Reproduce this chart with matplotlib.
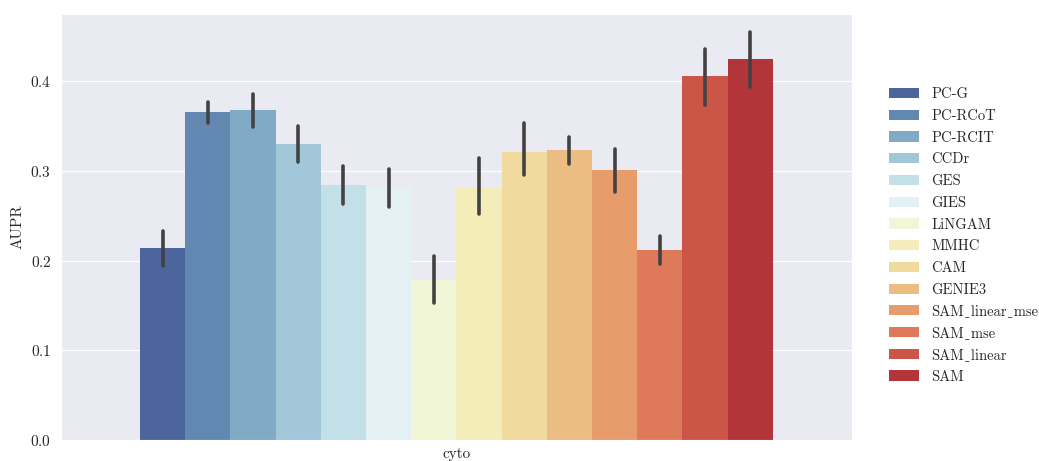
import numpy as np
import matplotlib
matplotlib.use('Agg')
import matplotlib.pyplot as plt
import seaborn as sns

# AUPR per method on the cyto dataset (mean and confidence interval)
methods = ['PC-G', 'PC-RCoT', 'PC-RCIT', 'CCDr', 'GES', 'GIES', 'LiNGAM', 'MMHC',
           'CAM', 'GENIE3', 'SAM_linear_mse', 'SAM_mse', 'SAM_linear', 'SAM']
aupr = [0.214, 0.366, 0.368, 0.330, 0.284, 0.282, 0.178, 0.281,
        0.321, 0.323, 0.301, 0.212, 0.406, 0.425]
ci_low = [0.194, 0.354, 0.349, 0.310, 0.263, 0.260, 0.153, 0.252,
          0.295, 0.308, 0.276, 0.196, 0.374, 0.394]
ci_high = [0.233, 0.377, 0.386, 0.350, 0.305, 0.302, 0.205, 0.314,
           0.354, 0.338, 0.325, 0.228, 0.436, 0.455]
dataset = 'cyto'

sns.set_style('darkgrid')
plt.rcParams['font.family'] = ['cmr10', 'DejaVu Serif', 'DejaVu Sans']
plt.rcParams['axes.formatter.use_mathtext'] = True

colors = [sns.desaturate(c, 0.75) for c in sns.color_palette('RdYlBu_r', len(methods))]

fig = plt.figure(figsize=(10.39, 4.61), dpi=100)
ax = fig.add_axes([0.0587, 0.0456, 0.7613, 0.924])

n = len(methods)
width = 0.8 / n
xs = -0.4 + width * (np.arange(n) + 0.5)
for i in range(n):
    # cmr10 maps '_' to a dot accent, so use a low macron from the fallback font
    ax.bar(xs[i], aupr[i], width=width, color=colors[i], linewidth=0,
           label=methods[i].replace('_', '\u02cd'))
ax.vlines(xs, ci_low, ci_high, color='#424242', lw=2.6, capstyle='round', zorder=3)

ax.set_xlim(-0.5, 0.5)
ax.set_ylim(0, 0.475)
ax.set_xticks([0])
ax.set_xticklabels([dataset])
ax.xaxis.grid(False)
ax.set_yticks([0.0, 0.1, 0.2, 0.3, 0.4])
ax.set_ylabel('AUPR', fontsize=11)
ax.tick_params(labelsize=11)
ax.tick_params(axis='x', pad=2)

ax.legend(loc='center left', bbox_to_anchor=(1.03, 0.48), frameon=False,
          fontsize=10.5, labelspacing=0.55, handlelength=2.1, handletextpad=0.8)

plt.savefig('out.png')
